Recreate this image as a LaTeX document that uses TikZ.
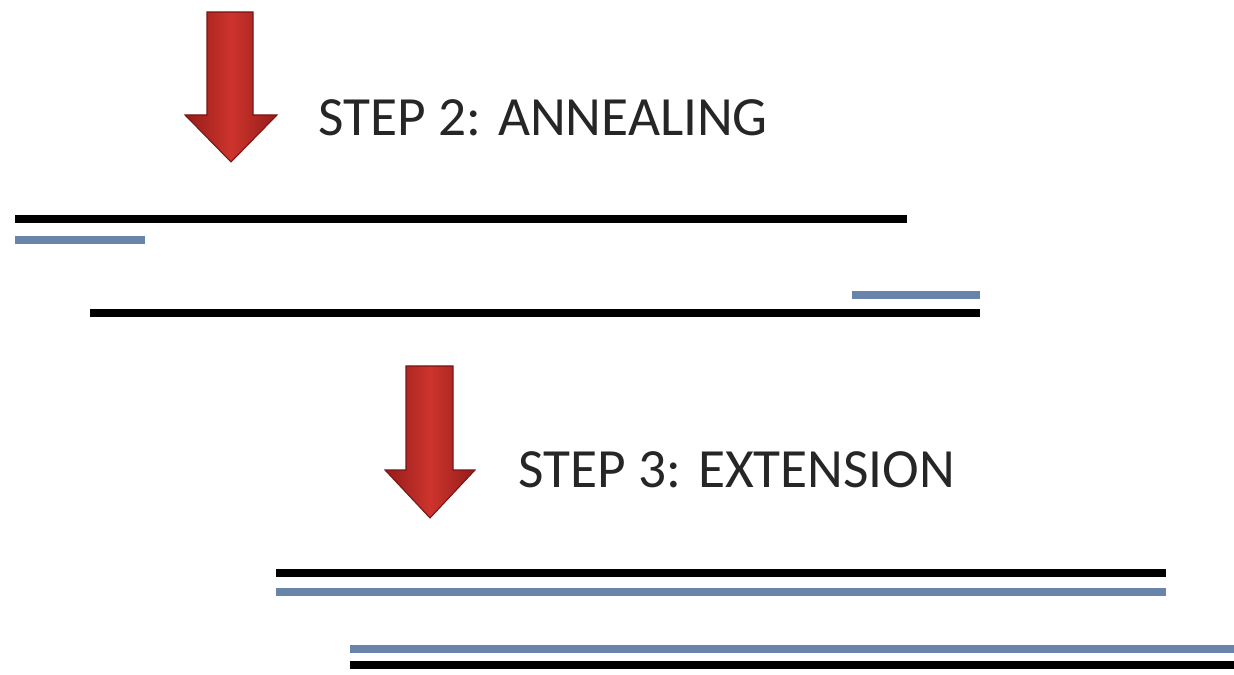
\documentclass[tikz,border=0pt]{standalone}
\usepackage{fontspec}
\setmainfont{Carlito}
\definecolor{strandblue}{RGB}{105,132,170}
\definecolor{arrowred}{RGB}{205,52,45}
\definecolor{arrowdark}{RGB}{150,28,26}
\tikzset{
  dna/.style={line width=8*0.02cm},
  template/.style={dna, black},
  primer/.style={dna, strandblue},
  redarrow/.style={left color=arrowdark, right color=arrowdark, middle color=arrowred, draw=arrowdark!80!black, line width=0.6pt},
  steplabel/.style={anchor=west, inner sep=0pt, font=\fontsize{31.5}{38}\selectfont, text=black!85}
}
\begin{document}
\begin{tikzpicture}[x=0.02cm, y=-0.02cm]
\useasboundingbox (0,0) rectangle (1234,675);
% arrow 1
\path[redarrow] (207,12) -- (253,12) -- (253,115) -- (277,115) -- (231,162) -- (185,115) -- (207,115) -- cycle;
\node[steplabel] (s2) at (318,118) {STEP 2: ANNEALING};
% annealing strands
\draw[template] (15,219) -- (907,219);
\draw[primer] (15,240) -- (145,240);
\draw[primer] (852,295) -- (980,295);
\draw[template] (90,313) -- (980,313);
% arrow 2
\path[redarrow] (406,366) -- (453,366) -- (453,470) -- (475,470) -- (430,518) -- (385,470) -- (406,470) -- cycle;
\node[steplabel] (s3) at (518,470) {STEP 3: EXTENSION};
% extension strands
\draw[template] (276,573) -- (1166,573);
\draw[primer] (276,592) -- (1166,592);
\draw[primer] (350,649) -- (1234,649);
\draw[template] (350,665) -- (1234,665);
\end{tikzpicture}
\end{document}
